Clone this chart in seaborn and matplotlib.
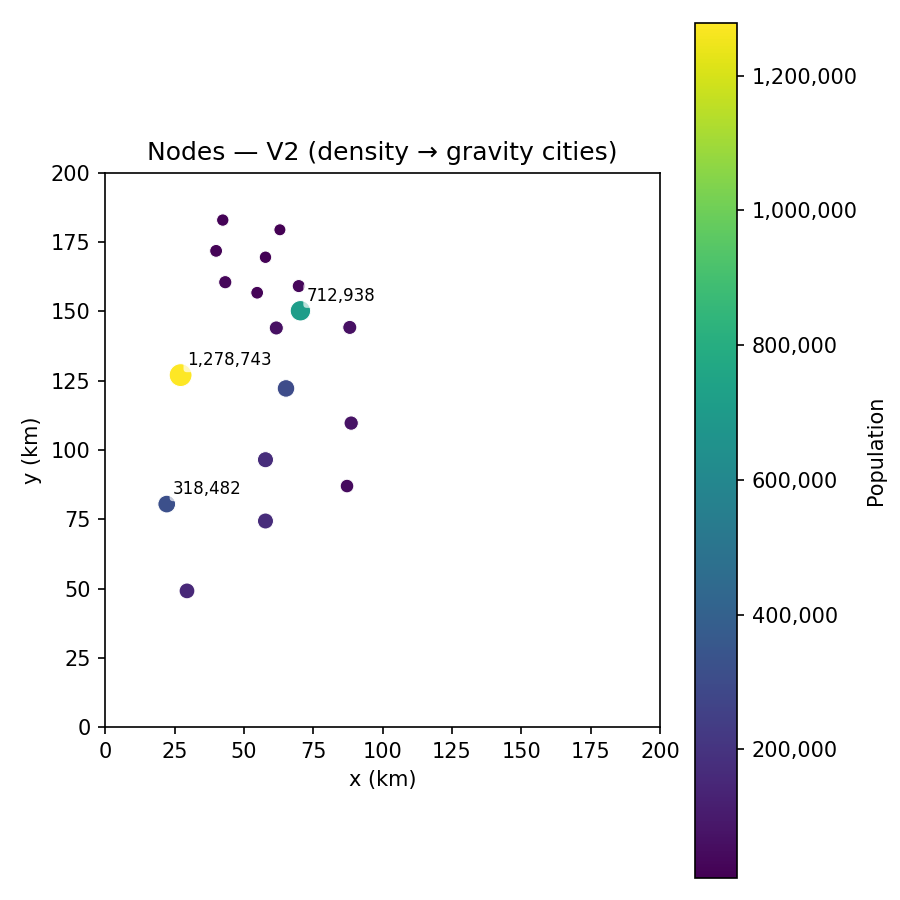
import numpy as np
import pandas as pd
import seaborn as sns
import matplotlib
matplotlib.use('Agg')
from matplotlib import pyplot as plt
from matplotlib.colors import Normalize
from matplotlib.ticker import StrMethodFormatter

# node positions (km) and populations
x_km = [42.4, 63.0, 40.0, 57.8, 43.3, 54.8, 69.8, 70.4, 61.7, 88.2,
        27.2, 65.2, 88.7, 57.8, 87.2, 22.2, 57.8, 29.5]
y_km = [182.9, 179.4, 171.8, 169.5, 160.5, 156.7, 159.1, 150.2, 144.0, 144.2,
        127.0, 122.2, 109.7, 96.5, 87.0, 80.5, 74.4, 49.2]
population = [15000, 10000, 24000, 16000, 33000, 22000, 30000, 712938, 62000, 60000,
              1278743, 300000, 70000, 170000, 45000, 318482, 165000, 150000]

df = pd.DataFrame({'x': x_km, 'y': y_km, 'pop': population})
df['size'] = np.sqrt(df['pop'] / df['pop'].max())

vmin, vmax = df['pop'].min(), df['pop'].max()
norm = Normalize(vmin=vmin, vmax=vmax)

fig, ax = plt.subplots(figsize=(6, 6), dpi=150)
sns.scatterplot(data=df, x='x', y='y', hue='pop', palette='viridis', hue_norm=norm,
                size='size', sizes=(25, 120), size_norm=(0, 1), legend=False, ax=ax)

# label the three biggest cities
for _, r in df.nlargest(3, 'pop').iterrows():
    ax.annotate(f"{int(r['pop']):,}", (r['x'], r['y']), xytext=(3, 3),
                textcoords='offset points', fontsize=8, va='bottom',
                bbox=dict(boxstyle='round,pad=0.2', fc='white', ec='none', alpha=0.7))

ax.set_xlim(0, 200)
ax.set_ylim(0, 200)
ax.set_aspect('equal')
ax.set_xlabel('x (km)')
ax.set_ylabel('y (km)')
ax.set_title('Nodes — V2 (density → gravity cities)')

sm = plt.cm.ScalarMappable(norm=norm, cmap='viridis')
cb = fig.colorbar(sm, ax=ax, format=StrMethodFormatter('{x:,.0f}'))
cb.set_label('Population')

plt.tight_layout()
plt.savefig('out.png')
